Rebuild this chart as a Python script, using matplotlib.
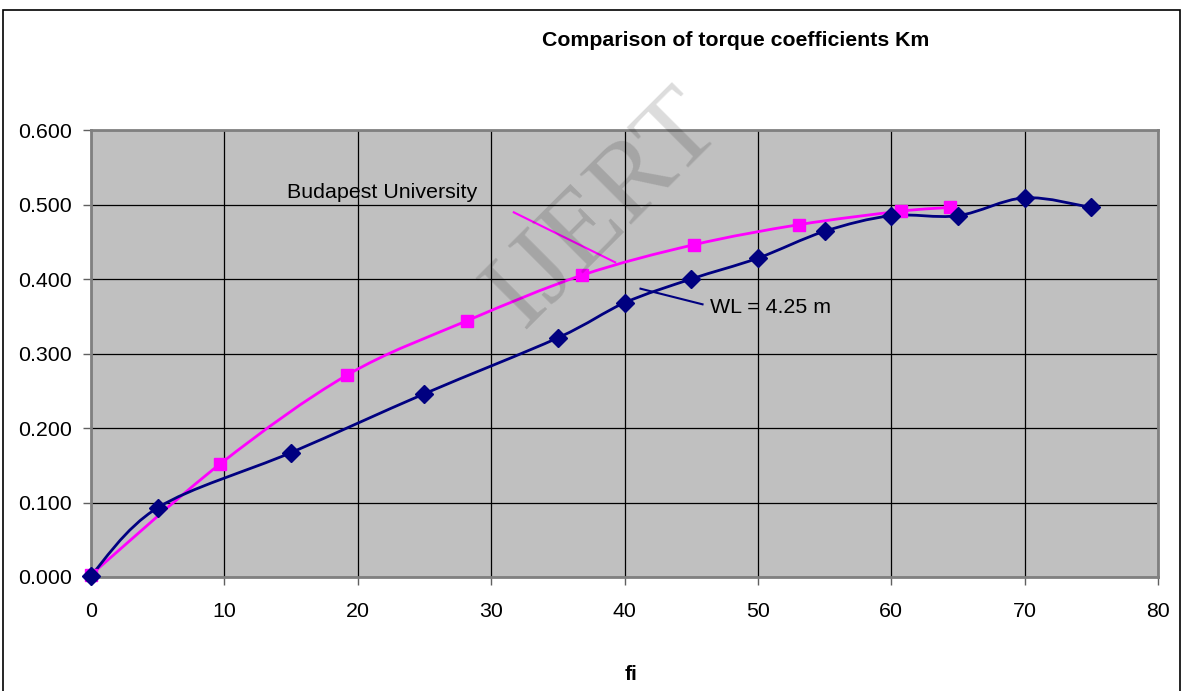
import numpy as np
import matplotlib
matplotlib.use("Agg")
import matplotlib.pyplot as plt
from matplotlib.path import Path
from matplotlib.patches import PathPatch, Rectangle

plt.rcParams['font.family'] = ['Liberation Sans', 'DejaVu Sans']

# WL = 4.25 m series
fi_wl = [0, 5, 15, 25, 35, 40, 45, 50, 55, 60, 65, 70, 75]
km_wl = [0.002, 0.093, 0.167, 0.246, 0.321, 0.368, 0.400, 0.428, 0.464, 0.485, 0.485, 0.509, 0.496]

# Budapest University series
fi_bu = [0, 9.7, 19.2, 28.2, 36.8, 45.2, 53.1, 60.7, 64.4]
km_bu = [0.003, 0.152, 0.271, 0.344, 0.405, 0.446, 0.473, 0.491, 0.496]

x_ticks = [0, 10, 20, 30, 40, 50, 60, 70, 80]
y_ticks = [0.0, 0.1, 0.2, 0.3, 0.4, 0.5, 0.6]


def smooth_path(xs, ys):
    # excel style smoothed line: catmull-rom as cubic bezier segments
    p = np.column_stack([xs, ys]).astype(float)
    verts = [p[0]]
    codes = [Path.MOVETO]
    n = len(p)
    for i in range(n - 1):
        p0 = p[i - 1] if i > 0 else p[i]
        p3 = p[i + 2] if i + 2 < n else p[i + 1]
        c1 = p[i] + (p[i + 1] - p0) / 6.0
        c2 = p[i + 1] - (p3 - p[i]) / 6.0
        verts += [c1, c2, p[i + 1]]
        codes += [Path.CURVE4] * 3
    return Path(verts, codes)


fig = plt.figure(figsize=(11.82, 6.91), dpi=100)
ax = fig.add_axes([91 / 1182, 1 - 577 / 691, (1158 - 91) / 1182, (577 - 130) / 691])
ax.set_facecolor('#c0c0c0')

# outer chart border
fig.patches.append(Rectangle((3 / 1182, -0.02), 1177 / 1182, 1.02 - 10 / 691,
                             transform=fig.transFigure, fill=False,
                             edgecolor='black', linewidth=1.2))

ax.set_xlim(0, 80)
ax.set_ylim(0, 0.6)
ax.set_xticks(x_ticks)
ax.set_yticks(y_ticks)
ax.set_yticklabels(['%.3f' % v for v in y_ticks])
ax.grid(True, color='black', linewidth=0.9)
ax.set_axisbelow(True)
ax.tick_params(axis='both', labelsize=15.4, length=6, width=1, color='#606060', pad=8)
ax.tick_params(axis='x', pad=12)
for s in ax.spines.values():
    s.set_color('#808080')
    s.set_linewidth(2)

# watermark
fig.text(605 / 1182, 1 - 210 / 691, 'IJERT', fontsize=80, family=['Liberation Serif', 'DejaVu Serif'],
         rotation=45, color='black', alpha=0.14, ha='center', va='center', zorder=5)

ax.add_patch(PathPatch(smooth_path(fi_bu, km_bu), fill=False, edgecolor='#ff00ff', linewidth=2, zorder=3))
ax.plot(fi_bu, km_bu, linestyle='none', marker='s', markersize=9, color='#ff00ff', zorder=4, clip_on=False)

ax.add_patch(PathPatch(smooth_path(fi_wl, km_wl), fill=False, edgecolor='#000080', linewidth=2, zorder=3))
ax.plot(fi_wl, km_wl, linestyle='none', marker='D', markersize=9, color='#000080', zorder=4, clip_on=False)

# labels with leader lines
ax.text(14.7, 0.516, 'Budapest University', fontsize=15.4, va='center', ha='left')
ax.plot([31.7, 39.3], [0.4895, 0.4224], color='#ff00ff', linewidth=1.5)
ax.text(46.4, 0.362, 'WL = 4.25 m', fontsize=15.4, va='center', ha='left')
ax.plot([41.2, 45.85], [0.387, 0.366], color='#000080', linewidth=1.5)

fig.text(736 / 1182, 1 - 40 / 691, 'Comparison of torque coefficients Km', fontsize=15.3,
         fontweight='bold', ha='center', va='center')
fig.text(631 / 1182, 1 - 675 / 691, 'fi', fontsize=15, fontweight='bold', ha='center', va='center')

fig.savefig('out.png', dpi=100)
